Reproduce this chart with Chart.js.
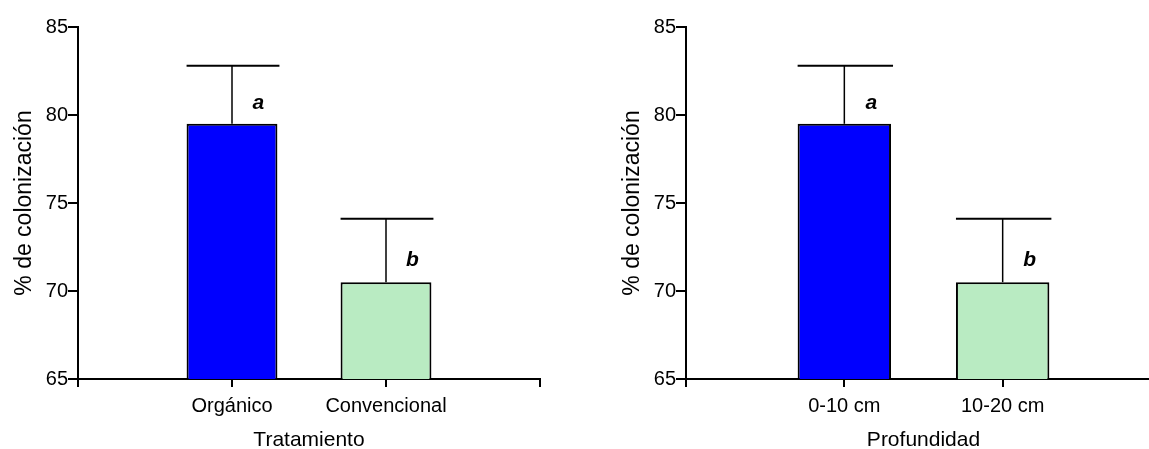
<!DOCTYPE html>
<html><head><meta charset="utf-8">
<script src="https://cdn.jsdelivr.net/npm/chart.js@4.4.1/dist/chart.umd.min.js"></script>
<style>
html,body{margin:0;padding:0;background:#fff;overflow:hidden;width:1149px;height:449px;}
#wrap{position:relative;width:1149px;height:449px;overflow:hidden;}
.c{position:absolute;top:0;height:449px;}
</style></head><body>
<div id="wrap">
<div class="c" style="left:0;width:575px"><canvas id="c1" width="575" height="449"></canvas></div>
<div class="c" style="left:608px;width:560px"><canvas id="c2" width="560" height="449"></canvas></div>
</div>
<script>
// ---- data ----
const treatmentCategories = ['Orgánico', 'Convencional'];
const treatmentMeans = [79.5, 70.5];
const treatmentErrors = [3.3, 3.6];
const treatmentLetters = ['a', 'b'];

const depthCategories = ['0-10 cm', '10-20 cm'];
const depthMeans = [79.5, 70.5];
const depthErrors = [3.3, 3.6];
const depthLetters = ['a', 'b'];

const yTickValues = [65, 70, 75, 80, 85];
const yAxisTitle = '% de colonización';
const treatmentTitle = 'Tratamiento';
const depthTitle = 'Profundidad';
const barColors = ['#0000FF', '#B9EBC2'];

const FONT = "'Liberation Sans', Arial, Helvetica, sans-serif";

const errorBarPlugin = {
  id: 'errorBars',
  afterDatasetsDraw(chart) {
    const ctx = chart.ctx;
    const yScale = chart.scales.y;
    const meta = chart.getDatasetMeta(0);
    const ds = chart.data.datasets[0];
    ctx.save();
    ctx.strokeStyle = '#000';
    meta.data.forEach((el, i) => {
      const v = ds.data[i];
      if (v === null || v === undefined) return;
      const err = ds.errors[i];
      const yTop = yScale.getPixelForValue(v + err);
      const half = el.width / 2;
      ctx.lineWidth = 1.5;
      ctx.beginPath();
      ctx.moveTo(el.x, el.y);
      ctx.lineTo(el.x, yTop);
      ctx.stroke();
      ctx.lineWidth = 2;
      ctx.beginPath();
      ctx.moveTo(el.x - half, yTop);
      ctx.lineTo(el.x + half + 2, yTop);
      ctx.stroke();
      // significance letter
      ctx.fillStyle = '#000';
      ctx.font = "italic bold 21px " + FONT;
      ctx.textAlign = 'center';
      ctx.textBaseline = 'alphabetic';
      ctx.fillText(ds.letters[i], el.x + el.width * 0.29, yScale.getPixelForValue(v + err * 0.25));
    });
    ctx.restore();
  }
};

function makeChart(id, categories, means, errors, letters, xTitle, padRight) {
  const labels = [''].concat(categories, ['']);
  const data = [null].concat(means, [null]);
  const errs = [null].concat(errors, [null]);
  const lets = [''].concat(letters, ['']);
  const colors = ['#000'].concat(barColors, ['#000']);
  return new Chart(document.getElementById(id), {
    type: 'bar',
    data: {
      labels: labels,
      datasets: [{
        data: data,
        errors: errs,
        letters: lets,
        backgroundColor: colors,
        borderColor: '#000',
        borderWidth: 2,
        borderSkipped: false,
        barPercentage: 0.59,
        categoryPercentage: 1.0
      }]
    },
    options: {
      responsive: false,
      animation: false,
      devicePixelRatio: 1,
      layout: { padding: { left: 0, right: padRight, top: 27, bottom: 0 } },
      plugins: { legend: { display: false }, tooltip: { enabled: false }, title: { display: false } },
      scales: {
        x: {
          type: 'category',
          offset: false,
          grid: { offset: false, drawOnChartArea: false, drawTicks: true, tickLength: 8, color: '#000', lineWidth: 2 },
          border: { display: true, color: '#000', width: 2 },
          ticks: { color: '#000', font: { family: FONT, size: 20 }, padding: 7, maxRotation: 0, autoSkip: false },
          title: { display: true, text: xTitle, color: '#000', font: { family: FONT, size: 21, lineHeight: 0.85 }, padding: { top: 0, bottom: 0 } },
          afterFit(scale) { scale.height = 70; }
        },
        y: {
          type: 'linear',
          min: 65, max: 85,
          afterBuildTicks(scale) { scale.ticks = yTickValues.map(v => ({ value: v })); },
          grid: { drawOnChartArea: false, drawTicks: true, tickLength: 10, color: '#000', lineWidth: 2 },
          border: { display: true, color: '#000', width: 2 },
          ticks: { color: '#000', font: { family: FONT, size: 20 }, padding: 0 },
          title: { display: true, text: yAxisTitle, color: '#000', font: { family: FONT, size: 23, lineHeight: 1 }, padding: { top: 13, bottom: 0 } },
          afterFit(scale) { scale.width = 78; }
        }
      }
    },
    plugins: [errorBarPlugin]
  });
}

makeChart('c1', treatmentCategories, treatmentMeans, treatmentErrors, treatmentLetters, treatmentTitle, 35);
makeChart('c2', depthCategories, depthMeans, depthErrors, depthLetters, depthTitle, 6);
</script>
</body></html>
